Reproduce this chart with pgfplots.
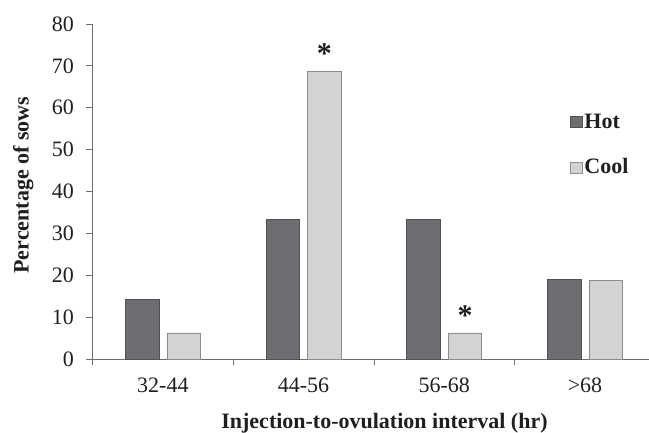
\documentclass[border=0pt]{standalone}
\usepackage{fontspec}
\setmainfont{Liberation Serif}
\usepackage{pgfplots}
\pgfplotsset{compat=1.18}
\definecolor{hot}{HTML}{6D6E71}
\definecolor{hotedge}{HTML}{505153}
\definecolor{cool}{HTML}{D1D3D4}
\definecolor{cooledge}{HTML}{8C8D8F}
\definecolor{axisgray}{HTML}{6E6E6E}

\pgfplotsset{
  sqlegend/.style={legend image code/.code={
    \draw[##1] (0pt,-6pt) rectangle (12pt,5pt);}},
}

\begin{document}
\begin{tikzpicture}
\begin{axis}[
  scale only axis,
  width=556.5pt, height=335pt,
  xmin=-0.5, xmax=3.455,
  ymin=0, ymax=80,
  ybar=8pt, bar width=33.5pt,
  ytick={0,10,...,80},
  xtick={0,1,2,3},
  xticklabels={32-44,44-56,56-68,>68},
  minor xtick={-0.5,0.5,1.5,2.5,3.5},
  major x tick style={draw=none},
  axis x line*=bottom, axis y line*=left,
  axis line style={axisgray, line width=0.8pt},
  tick style={axisgray, line width=0.8pt},
  tick align=outside,
  major tick length=6pt, minor tick length=6pt,
  /pgf/number format/assume math mode=true,
  ticklabel style={font=\fontsize{22}{24}\selectfont, text=black!88},
  xticklabel style={anchor=base, yshift=-27pt},
  yticklabel style={anchor=east, xshift=-9pt},
  xlabel={Injection-to-ovulation interval (hr)},
  ylabel={Percentage of sows},
  xlabel style={at={(axis description cs:0.5247,-0.206)}, anchor=base,
    font=\bfseries\fontsize{22}{24}\selectfont, text=black!88},
  ylabel style={at={(axis description cs:-0.143,0.519)}, anchor=north,
    inner sep=0pt, font=\bfseries\fontsize{22}{24}\selectfont, text=black!88},
  legend style={draw=none, fill=none, at={(axis description cs:0.852,0.745)},
    anchor=north west, font=\bfseries\fontsize{22}{24}\selectfont,
    text=black!88, row sep=25pt},
  legend cell align=left,
  clip=false,
]
\addplot[fill=hot, draw=hotedge, line width=0.6pt, sqlegend]
  coordinates {(0,14.29) (1,33.33) (2,33.33) (3,19.05)};
\addplot[fill=cool, draw=cooledge, line width=0.6pt, sqlegend,
  nodes near coords={\pgfplotspointmeta}, point meta=explicit symbolic,
  every node near coord/.append style={font=\bfseries\fontsize{30}{30}\selectfont,
    text=black!88, inner sep=1pt, yshift=6pt}]
  coordinates {(0,6.25)[] (1,68.75)[*] (2,6.25)[*] (3,18.75)[]};
\legend{Hot, Cool}
\coordinate (O) at (rel axis cs:0,0);
\end{axis}
\pgfresetboundingbox
\path[use as bounding box] ([shift={(-92.5pt,-73pt)}]O) rectangle ([shift={(556.5pt,359pt)}]O);
\end{tikzpicture}
\end{document}
